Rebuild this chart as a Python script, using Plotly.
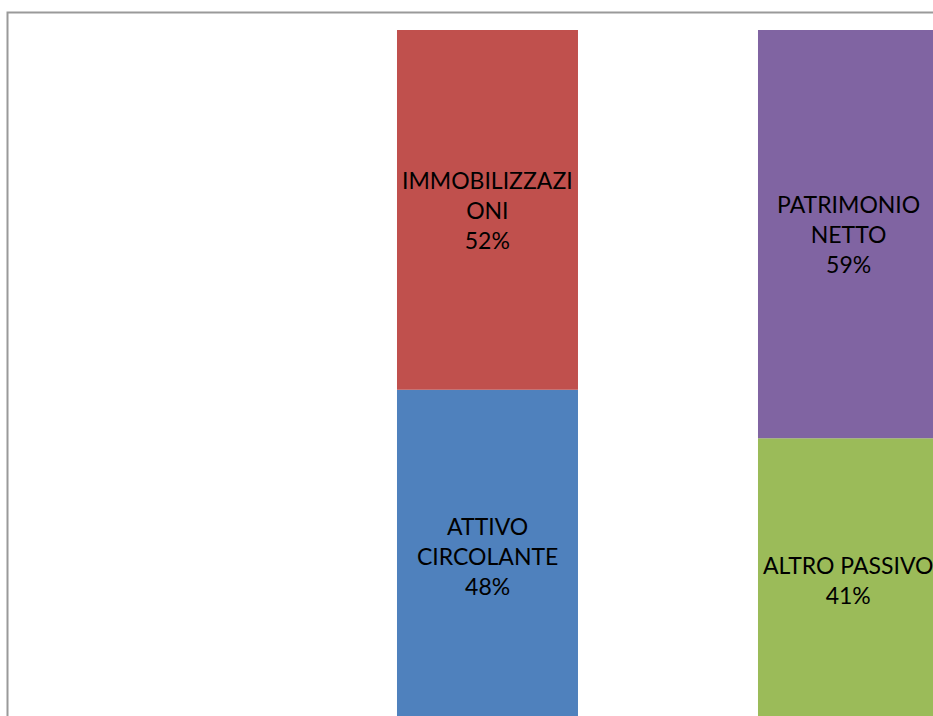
import plotly.graph_objects as go

categories = [1, 2]
series_names = ["ATTIVO CIRCOLANTE", "IMMOBILIZZAZIONI", "ALTRO PASSIVO", "PATRIMONIO NETTO"]
label_texts = ["ATTIVO<br>CIRCOLANTE", "IMMOBILIZZAZI<br>ONI", "ALTRO PASSIVO", "PATRIMONIO<br>NETTO"]
series_cat = [1, 1, 2, 2]
series_values = [48, 52, 41, 59]
colors = ["#4F81BD", "#C0504D", "#9BBB59", "#8064A2"]

fig = go.Figure()
bases = {c: 0 for c in categories}
annotations = []
for name, lab, cat, val, col in zip(series_names, label_texts, series_cat, series_values, colors):
    base = bases[cat]
    fig.add_trace(go.Bar(
        x=[cat], y=[val], base=[base], name=name,
        marker=dict(color=col, line=dict(width=0)),
        width=0.5014, hoverinfo="skip",
    ))
    annotations.append(dict(
        x=cat, y=base + val / 2, xref="x", yref="y",
        text=f"{lab}<br>{val}%", showarrow=False,
        font=dict(family="Lato", size=23, color="#000000"),
        align="center", xanchor="center", yanchor="middle",
    ))
    bases[cat] = base + val

fig.update_layout(
    width=933, height=716,
    margin=dict(l=0, r=0, t=0, b=0),
    paper_bgcolor="white", plot_bgcolor="white",
    showlegend=False, barmode="overlay",
    xaxis=dict(range=[-0.3504, 2.2341], visible=False, fixedrange=True),
    yaxis=dict(range=[0.867, 104.34], visible=False, fixedrange=True),
    annotations=annotations,
    shapes=[dict(type="rect", xref="paper", yref="paper",
                 x0=7.5 / 933, x1=1.05, y0=-0.05, y1=1 - 12.5 / 716,
                 line=dict(color="#9a9a9a", width=2), fillcolor="rgba(0,0,0,0)",
                 layer="below")],
)

fig.write_html("out.html")
